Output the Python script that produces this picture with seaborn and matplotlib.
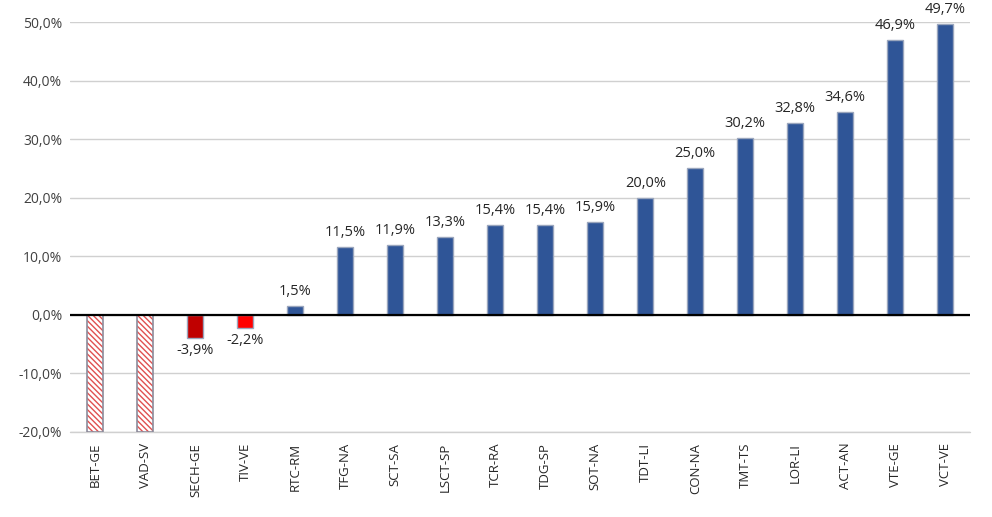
import matplotlib
matplotlib.use("Agg")
import matplotlib.pyplot as plt
import seaborn as sns
import pandas as pd

categories = ["BET-GE", "VAD-SV", "SECH-GE", "TIV-VE", "RTC-RM", "TFG-NA", "SCT-SA",
              "LSCT-SP", "TCR-RA", "TDG-SP", "SOT-NA", "TDT-LI", "CON-NA", "TMT-TS",
              "LOR-LI", "ACT-AN", "VTE-GE", "VCT-VE"]
values = [-20.0, -20.0, -3.9, -2.2, 1.5, 11.5, 11.9, 13.3, 15.4, 15.4, 15.9, 20.0,
          25.0, 30.2, 32.8, 34.6, 46.9, 49.7]
show_label = [False, False] + [True] * 16
y_ticks = [-20, -10, 0, 10, 20, 30, 40, 50]

BLUE = "#2F5597"
colors = ["#FFFFFF", "#FFFFFF", "#C00000", "#FF0000"] + [BLUE] * 14
hatched = [True, True] + [False] * 16

sns.set_theme(style="white")
plt.rcParams["font.family"] = ["Open Sans", "DejaVu Sans"]

df = pd.DataFrame({"cat": categories, "val": values})
fig, ax = plt.subplots(figsize=(9.92, 5.17), dpi=100)
fig.subplots_adjust(left=0.071, right=0.978, top=0.957, bottom=0.165)

sns.barplot(data=df, x="cat", y="val", hue="cat", palette=colors, legend=False,
            width=0.32, saturation=1, ax=ax, zorder=3)

for patch, h in zip(ax.patches, hatched):
    if h:
        patch.set_facecolor("white")
        patch.set_edgecolor("none")
    else:
        patch.set_edgecolor("#9AA6BD")
        patch.set_linewidth(1.0)

# hatched bars: red hatch lines and grey outline drawn on top
for patch, h in zip(list(ax.patches), hatched):
    if h:
        x0 = patch.get_x(); w = patch.get_width()
        ax.bar(x0 + w / 2, patch.get_height(), width=w, bottom=patch.get_y(),
               facecolor="none", edgecolor="#E05050", hatch="\\\\\\\\\\\\",
               linewidth=0, zorder=3.5)
        ax.bar(x0 + w / 2, patch.get_height(), width=w, bottom=patch.get_y(),
               facecolor="none", edgecolor="#8C8C9C", linewidth=1.2, zorder=3.6)

for i, (v, s) in enumerate(zip(values, show_label)):
    if not s:
        continue
    txt = f"{v:.1f}%".replace(".", ",")
    if v >= 0:
        ax.text(i, v + 1.2, txt, ha="center", va="bottom", fontsize=10.5, color="#262626")
    else:
        ax.text(i, v - 1.0, txt, ha="center", va="top", fontsize=10.5, color="#262626")

ax.set_ylim(-20, 50)
ax.set_xlim(-0.5, len(categories) - 0.5)
ax.set_yticks(y_ticks)
ax.set_yticklabels([f"{t:.1f}%".replace(".", ",") for t in y_ticks], fontsize=10, color="#404040")
ax.tick_params(axis="x", labelrotation=90, labelsize=9.5, colors="#262626", length=0, pad=8)
ax.tick_params(axis="y", length=0, pad=6)
ax.set_xlabel("")
ax.set_ylabel("")
ax.yaxis.grid(True, color="#D0D0D0", linewidth=1.0, zorder=0)
ax.axhline(-20, color="#D0D0D0", linewidth=1.0, zorder=0, clip_on=False)
ax.axhline(0, color="black", linewidth=1.6, zorder=4)
for sp in ax.spines.values():
    sp.set_visible(False)

fig.savefig("out.png", dpi=100)
